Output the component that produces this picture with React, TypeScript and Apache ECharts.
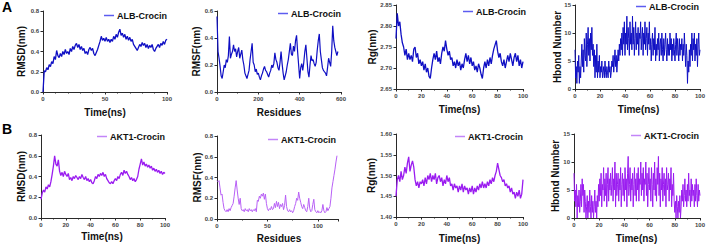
import React, { useEffect, useRef } from "react";
import * as echarts from "echarts";

// ---- ALB-Crocin trajectories (time step 1 ns unless noted) ----
const albRmsd = [
  0.0, 0.21, 0.2, 0.24, 0.22, 0.27, 0.25, 0.3, 0.28, 0.35, 0.32, 0.41, 0.36, 0.34, 0.38, 0.35, 0.4, 0.37, 0.42, 0.38,
  0.4, 0.37, 0.43, 0.4, 0.45, 0.42, 0.46, 0.48, 0.44, 0.47, 0.42, 0.45, 0.41, 0.43, 0.38, 0.4, 0.37, 0.42, 0.44, 0.41,
  0.43, 0.38, 0.36, 0.39, 0.42, 0.46, 0.5, 0.55, 0.51, 0.53, 0.5, 0.54, 0.5, 0.52, 0.49, 0.52, 0.5, 0.55, 0.52, 0.57,
  0.54, 0.59, 0.62, 0.56, 0.58, 0.54, 0.57, 0.52, 0.55, 0.51, 0.54, 0.5, 0.52, 0.47, 0.45, 0.43, 0.41, 0.44, 0.47, 0.45,
  0.49, 0.46, 0.48, 0.44, 0.47, 0.43, 0.46, 0.44, 0.47, 0.42, 0.4, 0.43, 0.45, 0.47, 0.44, 0.48, 0.46, 0.5, 0.47, 0.51,
  0.52,
];

// RMSF per residue, every 5th residue (0..585)
const albRmsf = [
  0.56, 0.3, 0.25, 0.19, 0.12, 0.1, 0.15, 0.2, 0.18, 0.24, 0.22, 0.27, 0.41, 0.25, 0.28, 0.3, 0.35, 0.3, 0.32, 0.26,
  0.3, 0.33, 0.25, 0.28, 0.31, 0.24, 0.2, 0.14, 0.12, 0.1, 0.13, 0.16, 0.24, 0.3, 0.36, 0.22, 0.2, 0.15, 0.17, 0.13,
  0.14, 0.11, 0.09, 0.12, 0.14, 0.17, 0.19, 0.16, 0.15, 0.13, 0.11, 0.14, 0.16, 0.2, 0.18, 0.21, 0.29, 0.24, 0.22, 0.18,
  0.16, 0.22, 0.3, 0.21, 0.14, 0.09, 0.12, 0.15, 0.2, 0.24, 0.3, 0.36, 0.28, 0.27, 0.34, 0.3, 0.38, 0.42, 0.3, 0.2,
  0.1, 0.18, 0.21, 0.16, 0.22, 0.3, 0.35, 0.25, 0.15, 0.11, 0.2, 0.27, 0.23, 0.24, 0.21, 0.19, 0.22, 0.31, 0.38, 0.43,
  0.3, 0.24, 0.18, 0.16, 0.15, 0.14, 0.12, 0.18, 0.25, 0.22, 0.19, 0.3, 0.49, 0.38, 0.33, 0.3, 0.27, 0.3,
];

const albRg = [
  2.77, 2.83, 2.8, 2.81, 2.78, 2.76, 2.75, 2.73, 2.745, 2.72, 2.735, 2.72, 2.73, 2.715, 2.745, 2.75, 2.725, 2.735, 2.71, 2.72,
  2.705, 2.715, 2.695, 2.71, 2.69, 2.7, 2.68, 2.675, 2.7, 2.72, 2.735, 2.72, 2.74, 2.715, 2.725, 2.71, 2.735, 2.75, 2.74, 2.765,
  2.745, 2.73, 2.74, 2.72, 2.725, 2.705, 2.715, 2.7, 2.72, 2.705, 2.715, 2.695, 2.71, 2.7, 2.72, 2.735, 2.715, 2.73, 2.71, 2.725,
  2.705, 2.715, 2.695, 2.705, 2.69, 2.71, 2.7, 2.685, 2.675, 2.7, 2.715, 2.7, 2.72, 2.705, 2.725, 2.71, 2.73, 2.745, 2.755, 2.765,
  2.74, 2.725, 2.735, 2.715, 2.705, 2.72, 2.7, 2.715, 2.73, 2.715, 2.735, 2.72, 2.705, 2.725, 2.735, 2.715, 2.73, 2.705, 2.72, 2.7,
  2.715,
];

// Hydrogen bonds, every 0.5 ns
const albHbond = [
  7, 2, 4, 1, 5, 3, 6, 1, 4, 2, 5, 8, 4, 7, 3, 9, 6, 5, 10, 4,
  8, 11, 6, 9, 5, 10, 7, 11, 6, 8, 4, 7, 2, 6, 3, 8, 2, 5, 3, 6,
  2, 4, 3, 5, 2, 3, 4, 2, 5, 3, 2, 4, 3, 2, 5, 3, 4, 2, 3, 5,
  4, 6, 3, 5, 7, 4, 6, 3, 5, 7, 5, 8, 6, 9, 7, 10, 6, 11, 8, 12,
  6, 10, 8, 13, 7, 11, 9, 6, 12, 8, 10, 7, 13, 8, 11, 6, 9, 12, 7, 10,
  8, 11, 6, 10, 9, 12, 7, 9, 11, 6, 10, 8, 12, 7, 9, 11, 6, 10, 8, 12,
  7, 9, 5, 8, 10, 6, 9, 7, 11, 5, 8, 6, 9, 7, 10, 5, 8, 9, 6, 10,
  7, 5, 9, 6, 8, 10, 7, 5, 9, 6, 8, 6, 10, 7, 9, 5, 8, 6, 9, 7,
  5, 8, 10, 6, 9, 7, 5, 9, 6, 8, 7, 9, 5, 8, 6, 10, 7, 4, 8, 6,
  1, 5, 3, 7, 4, 8, 6, 10, 5, 9, 7, 10, 5, 8, 6, 9, 4, 8, 10, 6,
  7,
];

// ---- AKT1-Crocin trajectories ----
const aktRmsd = [
  0.18, 0.24, 0.27, 0.25, 0.3, 0.28, 0.32, 0.3, 0.35, 0.42, 0.5, 0.6, 0.52, 0.5, 0.56, 0.45, 0.41, 0.44, 0.4, 0.45,
  0.42, 0.4, 0.43, 0.37, 0.39, 0.36, 0.4, 0.38, 0.41, 0.39, 0.37, 0.4, 0.38, 0.42, 0.39, 0.37, 0.4, 0.36, 0.38, 0.35,
  0.37, 0.34, 0.33, 0.36, 0.4, 0.38, 0.42, 0.4, 0.43, 0.41, 0.44, 0.4, 0.42, 0.38, 0.36, 0.34, 0.33, 0.35, 0.33, 0.36,
  0.38, 0.36, 0.4, 0.38, 0.42, 0.44, 0.41, 0.46, 0.43, 0.45, 0.42, 0.4, 0.37, 0.39, 0.36, 0.38, 0.35, 0.37, 0.4, 0.47,
  0.52, 0.57, 0.51, 0.54, 0.5, 0.52, 0.49, 0.51, 0.48, 0.5, 0.46, 0.48, 0.45, 0.47, 0.44, 0.46, 0.43, 0.45, 0.42, 0.44,
  0.43,
];

// RMSF per residue (0..119)
const aktRmsf = [
  0.37, 0.36, 0.37, 0.3, 0.23, 0.24, 0.16, 0.1, 0.08, 0.07, 0.09, 0.07, 0.1, 0.08, 0.11, 0.13, 0.15, 0.22, 0.3, 0.37,
  0.28, 0.2, 0.14, 0.2, 0.1, 0.08, 0.09, 0.07, 0.1, 0.08, 0.09, 0.07, 0.1, 0.08, 0.09, 0.07, 0.09, 0.08, 0.1, 0.07,
  0.18, 0.17, 0.22, 0.2, 0.24, 0.22, 0.25, 0.19, 0.24, 0.15, 0.1, 0.08, 0.1, 0.09, 0.12, 0.09, 0.1, 0.15, 0.11, 0.17,
  0.12, 0.16, 0.1, 0.14, 0.12, 0.15, 0.09, 0.13, 0.23, 0.12, 0.08, 0.07, 0.09, 0.07, 0.08, 0.06, 0.08, 0.12, 0.15, 0.2,
  0.18, 0.26, 0.2, 0.16, 0.12, 0.1, 0.14, 0.11, 0.08, 0.07, 0.12, 0.2, 0.1, 0.07, 0.08, 0.14, 0.19, 0.09, 0.07, 0.06,
  0.08, 0.06, 0.07, 0.06, 0.08, 0.14, 0.08, 0.06, 0.07, 0.11, 0.08, 0.1, 0.12, 0.2, 0.3, 0.36, 0.42, 0.48, 0.55, 0.61,
];

const aktRg = [
  1.45, 1.49, 1.5, 1.485, 1.51, 1.49, 1.5, 1.52, 1.505, 1.53, 1.545, 1.51, 1.525, 1.535, 1.52, 1.49, 1.475, 1.485, 1.47, 1.485,
  1.48, 1.49, 1.475, 1.495, 1.48, 1.5, 1.49, 1.505, 1.485, 1.5, 1.49, 1.505, 1.48, 1.495, 1.5, 1.485, 1.495, 1.475, 1.49, 1.48,
  1.5, 1.485, 1.495, 1.475, 1.48, 1.465, 1.48, 1.47, 1.475, 1.46, 1.475, 1.465, 1.48, 1.46, 1.475, 1.465, 1.47, 1.455, 1.47, 1.46,
  1.475, 1.455, 1.47, 1.46, 1.475, 1.465, 1.48, 1.47, 1.485, 1.47, 1.48, 1.47, 1.485, 1.475, 1.49, 1.48, 1.495, 1.485, 1.5, 1.51,
  1.53, 1.515, 1.5, 1.495, 1.485, 1.49, 1.475, 1.48, 1.47, 1.475, 1.46, 1.47, 1.455, 1.46, 1.445, 1.46, 1.45, 1.465, 1.445, 1.455,
  1.49,
];

// Hydrogen bonds, every 0.5 ns
const aktHbond = [
  8, 3, 5, 2, 6, 0, 4, 2, 5, 1, 3, 6, 2, 7, 4, 6, 1, 5, 3, 0,
  2, 4, 0, 3, 1, 5, 2, 0, 4, 1, 3, 0, 2, 5, 1, 3, 0, 4, 2, 6,
  3, 7, 4, 8, 2, 6, 5, 9, 3, 7, 4, 8, 2, 6, 9, 3, 7, 5, 8, 4,
  6, 9, 3, 7, 5, 10, 2, 8, 4, 6, 8, 3, 7, 5, 9, 2, 6, 8, 4, 7,
  3, 9, 5, 7, 2, 8, 11, 4, 6, 9, 3, 7, 5, 8, 2, 6, 9, 4, 7, 3,
  8, 5, 9, 3, 7, 6, 10, 4, 8, 5, 9, 3, 7, 6, 10, 4, 8, 2, 6, 9,
  5, 7, 3, 9, 6, 2, 8, 5, 10, 4, 7, 3, 9, 6, 11, 4, 8, 2, 7, 5,
  9, 3, 6, 8, 4, 7, 2, 9, 5, 6, 8, 3, 7, 5, 9, 2, 6, 4, 8, 3,
  1, 3, 0, 4, 2, 0, 3, 1, 4, 0, 2, 5, 3, 6, 2, 4, 7, 3, 5, 2,
  6, 3, 8, 4, 5, 2, 7, 3, 6, 4, 5, 2, 6, 3, 7, 4, 2, 6, 3, 5,
  4,
];

const ALB = "ALB-Crocin";
const AKT = "AKT1-Crocin";

const FONT = '"Liberation Sans", Arial, Helvetica, sans-serif';
const BLUE = "#0f0fc4";
const BLUE_KEY = "#5c5cf0";
const PURPLE = "#9a1cf0";
const PURPLE_LIGHT = "#b860f6";
const PURPLE_KEY = "#c385f8";
const AXIS = "#2a2a2a";

const toPairs = (vals: number[], step: number) => vals.map((v, i) => [i * step, v]);

type Panel = {
  grid: { left: number; top: number; width: number; height: number };
  x: { min: number; max: number; interval: number; minor: number; name: string; at: [number, number]; dec: number };
  y: { min: number; max: number; interval: number; name: string; at: [number, number]; dec: number };
  name: string;
  data: number[][];
  color: string;
  width: number;
  keyColor: string;
  legend: { left: number; top: number };
};

// "at" gives the centre of each axis title in pixels
const panels: Panel[] = [
  {
    grid: { left: 43, top: 11, width: 124, height: 81 },
    x: { min: 0, max: 100, interval: 50, minor: 5, name: "Time(ns)", at: [105, 112], dec: 0 },
    y: { min: 0, max: 0.8, interval: 0.2, name: "RMSD(nm)", at: [21.5, 51.5], dec: 1 },
    name: ALB, data: toPairs(albRmsd, 1), color: BLUE, width: 1.3, keyColor: BLUE_KEY,
    legend: { left: 104, top: 11 },
  },
  {
    grid: { left: 217, top: 11, width: 124, height: 81 },
    x: { min: 0, max: 600, interval: 200, minor: 2, name: "Residues", at: [279, 112], dec: 0 },
    y: { min: 0, max: 0.6, interval: 0.2, name: "RMSF(nm)", at: [196.5, 51.5], dec: 1 },
    name: ALB, data: toPairs(albRmsf, 5), color: BLUE, width: 1.2, keyColor: BLUE_KEY,
    legend: { left: 278, top: 9 },
  },
  {
    grid: { left: 396, top: 5, width: 127, height: 84 },
    x: { min: 0, max: 100, interval: 20, minor: 2, name: "Time(ns)", at: [459.5, 109], dec: 0 },
    y: { min: 2.65, max: 2.85, interval: 0.05, name: "Rg(nm)", at: [372, 47], dec: 2 },
    name: ALB, data: toPairs(albRg, 1), color: BLUE, width: 1.3, keyColor: BLUE_KEY,
    legend: { left: 463, top: 7 },
  },
  {
    grid: { left: 575, top: 5, width: 127, height: 84 },
    x: { min: 0, max: 100, interval: 20, minor: 2, name: "Time(ns)", at: [638.5, 109.5], dec: 0 },
    y: { min: 0, max: 15, interval: 5, name: "Hbond Number", at: [557, 47], dec: 0 },
    name: ALB, data: toPairs(albHbond, 0.5), color: BLUE, width: 1, keyColor: BLUE_KEY,
    legend: { left: 636, top: 2 },
  },
  {
    grid: { left: 41, top: 135, width: 124, height: 83 },
    x: { min: 0, max: 100, interval: 20, minor: 2, name: "Time(ns)", at: [102, 236.5], dec: 0 },
    y: { min: 0, max: 0.8, interval: 0.2, name: "RMSD(nm)", at: [21.5, 176.5], dec: 1 },
    name: AKT, data: toPairs(aktRmsd, 1), color: PURPLE, width: 1.3, keyColor: PURPLE_KEY,
    legend: { left: 97, top: 132 },
  },
  {
    grid: { left: 217, top: 136, width: 121, height: 83 },
    x: { min: 0, max: 120, interval: 50, minor: 2, name: "Residues", at: [279, 238.5], dec: 0 },
    y: { min: 0, max: 0.8, interval: 0.2, name: "RMSF(nm)", at: [197.5, 177.5], dec: 1 },
    name: AKT, data: toPairs(aktRmsf, 1), color: PURPLE_LIGHT, width: 1, keyColor: PURPLE_KEY,
    legend: { left: 268, top: 135 },
  },
  {
    grid: { left: 396, top: 134, width: 127, height: 83 },
    x: { min: 0, max: 100, interval: 20, minor: 2, name: "Time(ns)", at: [459.5, 238.5], dec: 0 },
    y: { min: 1.4, max: 1.6, interval: 0.05, name: "Rg(nm)", at: [371.5, 175.5], dec: 2 },
    name: AKT, data: toPairs(aktRg, 1), color: PURPLE, width: 1.3, keyColor: PURPLE_KEY,
    legend: { left: 455, top: 132 },
  },
  {
    grid: { left: 574, top: 134, width: 128, height: 84 },
    x: { min: 0, max: 100, interval: 20, minor: 2, name: "Time(ns)", at: [636.5, 238], dec: 0 },
    y: { min: 0, max: 15, interval: 5, name: "Hbond Number", at: [555.5, 176], dec: 0 },
    name: AKT, data: toPairs(aktHbond, 0.5), color: PURPLE, width: 1, keyColor: PURPLE_KEY,
    legend: { left: 631, top: 131 },
  },
];

const TITLE_FONT = `bold 10px ${FONT}`;
const tickLabel = (dec: number) => ({
  fontSize: 6,
  fontWeight: "bold",
  color: "#444",
  fontFamily: FONT,
  margin: 4,
  formatter: (v: number) => v.toFixed(dec),
});
const axisLine = { show: true, onZero: false, lineStyle: { color: AXIS, width: 1 } };

function axisTitles() {
  const out: any[] = [];
  panels.forEach((p) => {
    out.push({
      type: "text",
      x: p.x.at[0],
      y: p.x.at[1],
      style: { text: p.x.name, font: TITLE_FONT, fill: "#111", align: "center", verticalAlign: "middle" },
    });
    out.push({
      type: "text",
      x: p.y.at[0],
      y: p.y.at[1],
      rotation: Math.PI / 2,
      style: { text: p.y.name, font: TITLE_FONT, fill: "#111", align: "center", verticalAlign: "middle" },
    });
  });
  return out;
}

function buildOption() {
  return {
    animation: false,
    backgroundColor: "#ffffff",
    grid: panels.map((p) => ({ ...p.grid, containLabel: false })),
    xAxis: panels.map((p, i) => ({
      gridIndex: i,
      type: "value",
      min: p.x.min,
      max: p.x.max,
      interval: p.x.interval,
      axisLine,
      axisTick: { show: true, length: 2.5, lineStyle: { color: AXIS } },
      minorTick: { show: true, splitNumber: p.x.minor, length: 1.5, lineStyle: { color: AXIS } },
      axisLabel: { ...tickLabel(p.x.dec), showMaxLabel: p.x.max % p.x.interval === 0 },
      splitLine: { show: false },
    })),
    yAxis: panels.map((p, i) => ({
      gridIndex: i,
      type: "value",
      min: p.y.min,
      max: p.y.max,
      interval: p.y.interval,
      axisLine,
      axisTick: { show: true, length: 2.5, lineStyle: { color: AXIS } },
      axisLabel: tickLabel(p.y.dec),
      splitLine: { show: false },
    })),
    legend: panels.map((p) => ({
      data: [{ name: p.name, icon: "rect", itemStyle: { color: p.keyColor } }],
      left: p.legend.left,
      top: p.legend.top,
      padding: 0,
      itemWidth: 10,
      itemHeight: 1.5,
      selectedMode: false,
      textStyle: { fontSize: 9, fontWeight: "bold", color: "#111", fontFamily: FONT, padding: [0, 0, 0, -2] },
    })),
    series: panels.map((p, i) => ({
      type: "line",
      name: p.name,
      xAxisIndex: i,
      yAxisIndex: i,
      data: p.data,
      symbol: "none",
      showSymbol: false,
      silent: true,
      lineStyle: { width: p.width, color: p.color },
      itemStyle: { color: p.keyColor },
    })),
    graphic: [
      { type: "text", left: 2, top: 0, style: { text: "A", font: `bold 14px ${FONT}`, fill: "#000" } },
      { type: "text", left: 2, top: 122, style: { text: "B", font: `bold 14px ${FONT}`, fill: "#000" } },
      ...axisTitles(),
    ],
  };
}

export default function App() {
  const ref = useRef<HTMLDivElement>(null);
  useEffect(() => {
    if (!ref.current) return;
    const chart = echarts.init(ref.current, null, { renderer: "svg" });
    chart.setOption(buildOption() as any);
    return () => chart.dispose();
  }, []);
  return (
    <div
      ref={ref}
      style={{ position: "fixed", left: 0, top: 0, width: 708, height: 244, background: "#fff" }}
    />
  );
}
